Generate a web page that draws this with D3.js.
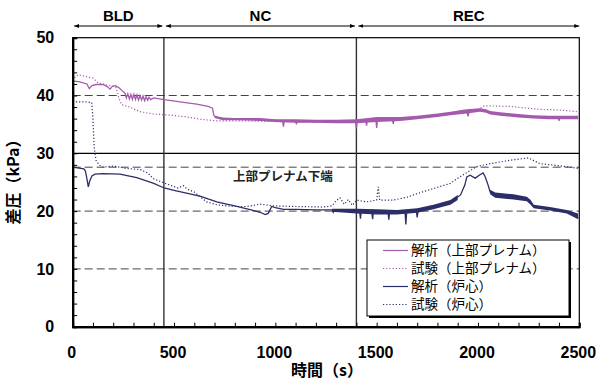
<!DOCTYPE html>
<html>
<head>
<meta charset="utf-8">
<script src="https://cdn.jsdelivr.net/npm/d3@7"></script>
<style>
  body { margin: 0; background: #fff; }
  svg { display: block; }
</style>
</head>
<body>
<svg id="chart" width="597" height="385"></svg>
<script>
// ---- data: time (s), differential pressure (kPa) ----
const phases = [
  { name: "BLD", start: 0, end: 450 },
  { name: "NC", start: 450, end: 1400 },
  { name: "REC", start: 1400, end: 2500 }
];
const xTicks = [0, 500, 1000, 1500, 2000, 2500];
const yTicks = [0, 10, 20, 30, 40, 50];
const dashedLevels = [10, 20, 40];
const solidLevels = [30];
const plenumBottom = 27.6;
const plenumBottomLabel = "上部プレナム下端";

const seriesNames = ["解析（上部プレナム）", "試験（上部プレナム）", "解析（炉心）", "試験（炉心）"];

// analysis, upper plenum
const upperSim = [
  [0,42.5],[30,42.4],[70,42.0],[82,41.2],[95,41.7],[115,41.9],[150,41.9],[172,41.5],[184,41.1],[196,41.6],
  [212,41.7],[230,41.3],[245,40.8],[258,40.4],[265,39.6],[272,40.3],[280,39.4],[287,40.2],[295,39.3],[302,40.2],
  [310,39.3],[317,40.1],[325,39.2],[332,40.0],[340,39.2],[347,39.9],[355,39.1],[362,39.8],[370,39.2],[377,39.7],
  [385,39.3],[400,39.6],[451,39.3],[530,38.9],[612,38.5],[668,38.1],[690,37.8],[696,36.6],[705,36.3],[742,35.9],
  [800,35.9],[925,35.8],[1000,35.7],[1036,35.6],[1040,34.6],[1044,35.6],[1100,35.6],[1104,35.0],[1108,35.6],
  [1200,35.5],[1300,35.5],[1396,35.5],[1400,34.3],[1404,35.6],[1446,35.7],[1450,34.8],[1454,35.7],[1496,35.8],
  [1500,34.4],[1504,35.8],[1578,35.9],[1582,35.1],[1586,35.9],[1700,36.2],[1800,36.6],[1864,36.9],[1931,37.4],
  [1945,37.3],[1951,36.4],[1957,37.3],[2010,37.5],[2040,37.3],[2060,37.0],[2110,36.8],[2200,36.5],[2273,36.3],
  [2350,36.2],[2396,36.2],[2400,35.6],[2404,36.2],[2494,36.2]
];
// spread of the noisy analysis signal, upper plenum: [t, low, high]
const upperSimBand = [
  [700,36.1,36.5],[742,35.7,36.2],[800,35.7,36.1],[925,35.6,36.1],[1000,35.4,35.9],[1100,35.3,35.9],
  [1200,35.3,35.8],[1300,35.2,35.8],[1402,35.2,35.9],[1500,35.4,36.3],[1616,35.6,36.3],[1700,35.9,36.5],
  [1800,36.3,36.9],[1864,36.6,37.2],[1945,36.9,37.6],[2010,37.2,37.8],[2040,37.0,37.6],[2060,36.7,37.3],
  [2110,36.5,37.1],[2200,36.2,36.8],[2273,36.0,36.6],[2350,35.9,36.5],[2494,35.9,36.5]
];

// test, upper plenum
const upperTest = [
  [0,42.6],[15,43.3],[28,43.6],[60,43.3],[100,43.0],[125,42.2],[160,41.9],[200,41.6],[215,41.3],[228,39.5],
  [242,38.4],[280,38.0],[332,37.2],[398,36.8],[480,36.6],[560,36.3],[628,35.9],[711,35.6],[860,35.6],[1000,35.5],
  [1200,35.4],[1400,35.5],[1600,35.9],[1800,36.6],[1950,37.2],[2000,37.5],[2030,38.2],[2060,38.2],[2159,38.1],
  [2306,37.6],[2400,37.5],[2494,37.2]
];

// analysis, core
const coreSim = [
  [0,27.6],[55,27.3],[63,26.9],[70,25.6],[77,24.2],[84,25.2],[95,26.1],[110,26.4],[150,26.5],[233,26.4],
  [316,25.8],[400,24.8],[451,24.0],[500,23.6],[628,22.6],[668,22.1],[711,21.6],[760,21.2],[800,20.9],[860,20.4],
  [925,19.8],[950,19.4],[965,19.6],[982,20.8],[1000,20.6],[1040,20.3],[1100,20.3],[1200,20.2],[1280,20.2],
  [1286,19.8],[1292,20.2],[1350,20.1],[1402,20.0],[1416,20.0],[1420,18.7],[1424,20.0],[1476,19.9],[1480,18.6],
  [1484,19.9],[1556,19.8],[1560,18.5],[1564,19.8],[1640,19.8],[1644,17.7],[1648,19.8],[1696,20.0],[1700,18.9],
  [1704,20.0],[1780,20.7],[1864,21.5],[1914,22.8],[1935,24.5],[1945,25.9],[1961,26.2],[1986,25.7],[2010,26.3],
  [2025,26.6],[2035,26.0],[2050,24.5],[2060,23.3],[2085,22.7],[2130,22.6],[2175,22.4],[2241,22.1],[2260,21.5],
  [2275,20.8],[2306,20.6],[2355,20.4],[2438,19.9],[2480,19.4],[2494,18.8]
];
// spread of the noisy analysis signal, core: [t, low, high]
const coreSimBandA = [
  [1280,19.9,20.4],[1402,19.6,20.4],[1500,19.4,20.3],[1600,19.4,20.2],[1700,19.7,20.5],[1780,20.3,21.1],
  [1864,21.1,21.9],[1900,21.9,22.8]
];
const coreSimBandB = [
  [2060,22.9,23.7],[2085,22.3,23.2],[2175,22.0,22.9],[2241,21.7,22.5],[2260,21.1,21.9],[2275,20.5,21.1],
  [2355,20.1,20.7],[2438,19.6,20.2],[2494,18.6,19.6]
];

// test, core
const coreTest = [
  [0,38.9],[60,38.9],[94,38.8],[100,36.0],[106,31.0],[115,28.8],[130,28.0],[150,27.6],[200,27.8],[260,27.4],
  [332,27.2],[370,26.6],[398,25.6],[450,24.9],[480,24.5],[520,24.0],[546,24.4],[565,23.8],[600,23.3],[628,22.5],
  [661,21.6],[711,21.1],[760,20.9],[800,20.8],[860,20.8],[925,21.2],[990,20.9],[1100,20.8],[1237,20.7],
  [1280,20.9],[1300,21.8],[1319,22.3],[1340,21.2],[1360,22.0],[1380,21.0],[1402,21.9],[1450,21.6],[1500,21.9],
  [1508,24.2],[1515,21.9],[1582,21.9],[1650,22.4],[1698,23.0],[1780,23.9],[1864,24.8],[1914,26.0],[1961,27.0],
  [1994,27.7],[2060,28.2],[2110,28.5],[2159,28.8],[2249,29.2],[2306,28.2],[2389,27.9],[2494,27.4]
];

// ---- layout ----
const svg = d3.select("#chart");
const plot = { left: 72.7, right: 579.3, top: 37.7, bottom: 326.7 };
const x = d3.scaleLinear().domain([0, 2500]).range([plot.left, plot.right]);
const y = d3.scaleLinear().domain([0, 50]).range([plot.bottom, plot.top]);

const purple = "#a45aad";
const navy = "#2c2e68";
const numFont = "'Liberation Sans', Arial, sans-serif";
const jpFont = "'Noto Sans CJK JP', 'Noto Sans', sans-serif";

// defs: arrowheads for the phase ranges
const defs = svg.append("defs");
["start", "end"].forEach(k => {
  defs.append("marker")
    .attr("id", "arrow-" + k)
    .attr("viewBox", "0 0 10 10")
    .attr("refX", k === "end" ? 10 : 0).attr("refY", 5)
    .attr("markerWidth", 5).attr("markerHeight", 5)
    .attr("markerUnits", "userSpaceOnUse")
    .attr("orient", "auto")
    .append("path")
    .attr("d", k === "end" ? "M0,1 L10,5 L0,9 Z" : "M10,1 L0,5 L10,9 Z")
    .attr("fill", "#000");
});

// reference levels
const gridG = svg.append("g");
gridG.selectAll("line.dash").data(dashedLevels.concat([plenumBottom])).join("line")
  .attr("x1", plot.left).attr("x2", plot.right)
  .attr("y1", d => y(d)).attr("y2", d => y(d))
  .attr("stroke", "#444").attr("stroke-width", 1)
  .attr("stroke-dasharray", "8,4");
gridG.selectAll("line.solid").data(solidLevels).join("line")
  .attr("x1", plot.left).attr("x2", plot.right)
  .attr("y1", d => y(d)).attr("y2", d => y(d))
  .attr("stroke", "#000").attr("stroke-width", 1.2);

// phase boundaries
svg.append("g").selectAll("line").data(phases.slice(1)).join("line")
  .attr("x1", d => x(d.start)).attr("x2", d => x(d.start))
  .attr("y1", plot.top).attr("y2", plot.bottom)
  .attr("stroke", "#333").attr("stroke-width", 1.4);

// phase labels with double arrows
const phaseG = svg.append("g");
phases.forEach((p, i) => {
  const x0 = x(p.start) + (i === 0 ? 1.5 : 2);
  const x1 = x(p.end) - (i === phases.length - 1 ? 0 : 1.5);
  phaseG.append("line")
    .attr("x1", x0).attr("x2", x1).attr("y1", 26).attr("y2", 26)
    .attr("stroke", "#000").attr("stroke-width", 1)
    .attr("marker-start", "url(#arrow-start)")
    .attr("marker-end", "url(#arrow-end)");
  phaseG.append("text")
    .attr("x", (x0 + x1) / 2).attr("y", 20.5)
    .attr("text-anchor", "middle")
    .attr("font-family", numFont).attr("font-weight", "bold").attr("font-size", 15)
    .text(p.name);
});

// series
const line = d3.line().x(d => x(d[0])).y(d => y(d[1]));
const band = d3.area().x(d => x(d[0])).y0(d => y(d[1])).y1(d => y(d[2]));

const seriesG = svg.append("g");
seriesG.append("path").datum(upperSimBand).attr("d", band).attr("fill", purple);
seriesG.append("path").datum(upperSim).attr("d", line)
  .attr("fill", "none").attr("stroke", purple).attr("stroke-width", 1.3);
seriesG.append("path").datum(upperTest).attr("d", line)
  .attr("fill", "none").attr("stroke", purple).attr("stroke-width", 1.2)
  .attr("stroke-dasharray", "1.2,2");
[coreSimBandA, coreSimBandB].forEach(b =>
  seriesG.append("path").datum(b).attr("d", band).attr("fill", navy));
seriesG.append("path").datum(coreSim).attr("d", line)
  .attr("fill", "none").attr("stroke", navy).attr("stroke-width", 1.3);
seriesG.append("path").datum(coreTest).attr("d", line)
  .attr("fill", "none").attr("stroke", navy).attr("stroke-width", 1.2)
  .attr("stroke-dasharray", "1.2,2");

// label of the plenum bottom level
svg.append("text")
  .attr("x", 233).attr("y", y(plenumBottom) + 14)
  .attr("font-family", jpFont).attr("font-weight", "bold").attr("font-size", 12.5)
  .attr("fill", "#222")
  .text(plenumBottomLabel);

// frame
svg.append("rect")
  .attr("x", plot.left).attr("y", plot.top)
  .attr("width", plot.right - plot.left).attr("height", plot.bottom - plot.top)
  .attr("fill", "none").attr("stroke", "#000").attr("stroke-width", 1.2);

// axes
const xMinor = svg.append("g").attr("transform", `translate(0,${plot.bottom})`)
  .call(d3.axisBottom(x).tickValues(d3.range(0, 2501, 100)).tickSize(-4).tickFormat(""));
const xMajor = svg.append("g").attr("transform", `translate(0,${plot.bottom})`)
  .call(d3.axisBottom(x).tickValues(xTicks).tickSize(0).tickPadding(19.5).tickFormat(d3.format("d")));
const yMinor = svg.append("g").attr("transform", `translate(${plot.left},0)`)
  .call(d3.axisLeft(y).tickValues(d3.range(0, 51, 2)).tickSize(-4.5).tickFormat(""));
const yMajor = svg.append("g").attr("transform", `translate(${plot.left},0)`)
  .call(d3.axisLeft(y).tickValues(yTicks).tickSize(0).tickPadding(18.5).tickFormat(d3.format("d")));

[xMinor, xMajor, yMinor, yMajor].forEach(g => {
  g.select(".domain").attr("stroke", "#000").attr("stroke-width", 2);
  g.selectAll(".tick line").attr("stroke", "#000").attr("stroke-width", 1);
  g.selectAll("text")
    .attr("font-family", numFont).attr("font-weight", "bold").attr("font-size", 16)
    .attr("fill", "#000");
});
xMajor.selectAll("text").attr("dx", -1.5);

// axis titles
svg.append("text")
  .attr("x", 327).attr("y", 376)
  .attr("text-anchor", "middle")
  .attr("font-family", jpFont).attr("font-weight", "bold").attr("font-size", 16)
  .text("時間（s）");
svg.append("text")
  .attr("transform", "translate(19,178) rotate(-90)")
  .attr("text-anchor", "middle")
  .attr("font-family", jpFont).attr("font-weight", "bold").attr("font-size", 16)
  .text("差圧（kPa）");

// legend
const legend = { x: 367, y: 240, w: 202, h: 76 };
const legendG = svg.append("g");
legendG.append("rect")
  .attr("x", legend.x + 2).attr("y", legend.y + 2)
  .attr("width", legend.w).attr("height", legend.h).attr("fill", "#000");
legendG.append("rect")
  .attr("x", legend.x).attr("y", legend.y)
  .attr("width", legend.w).attr("height", legend.h)
  .attr("fill", "#fff").attr("stroke", "#000").attr("stroke-width", 1);
const legendStyles = [
  { color: purple, dash: null },
  { color: purple, dash: "1.2,2" },
  { color: navy, dash: null },
  { color: navy, dash: "1.2,2" }
];
const rowY = [250.5, 268.5, 286.5, 304.5];
seriesNames.forEach((name, i) => {
  const s = legendStyles[i];
  legendG.append("line")
    .attr("x1", 383).attr("x2", 408).attr("y1", rowY[i]).attr("y2", rowY[i])
    .attr("stroke", s.color).attr("stroke-width", 1.2)
    .attr("stroke-dasharray", s.dash);
  legendG.append("text")
    .attr("x", 411).attr("y", rowY[i] + 4.8)
    .attr("font-family", jpFont).attr("font-size", 13.5)
    .text(name);
});
</script>
</body>
</html>
